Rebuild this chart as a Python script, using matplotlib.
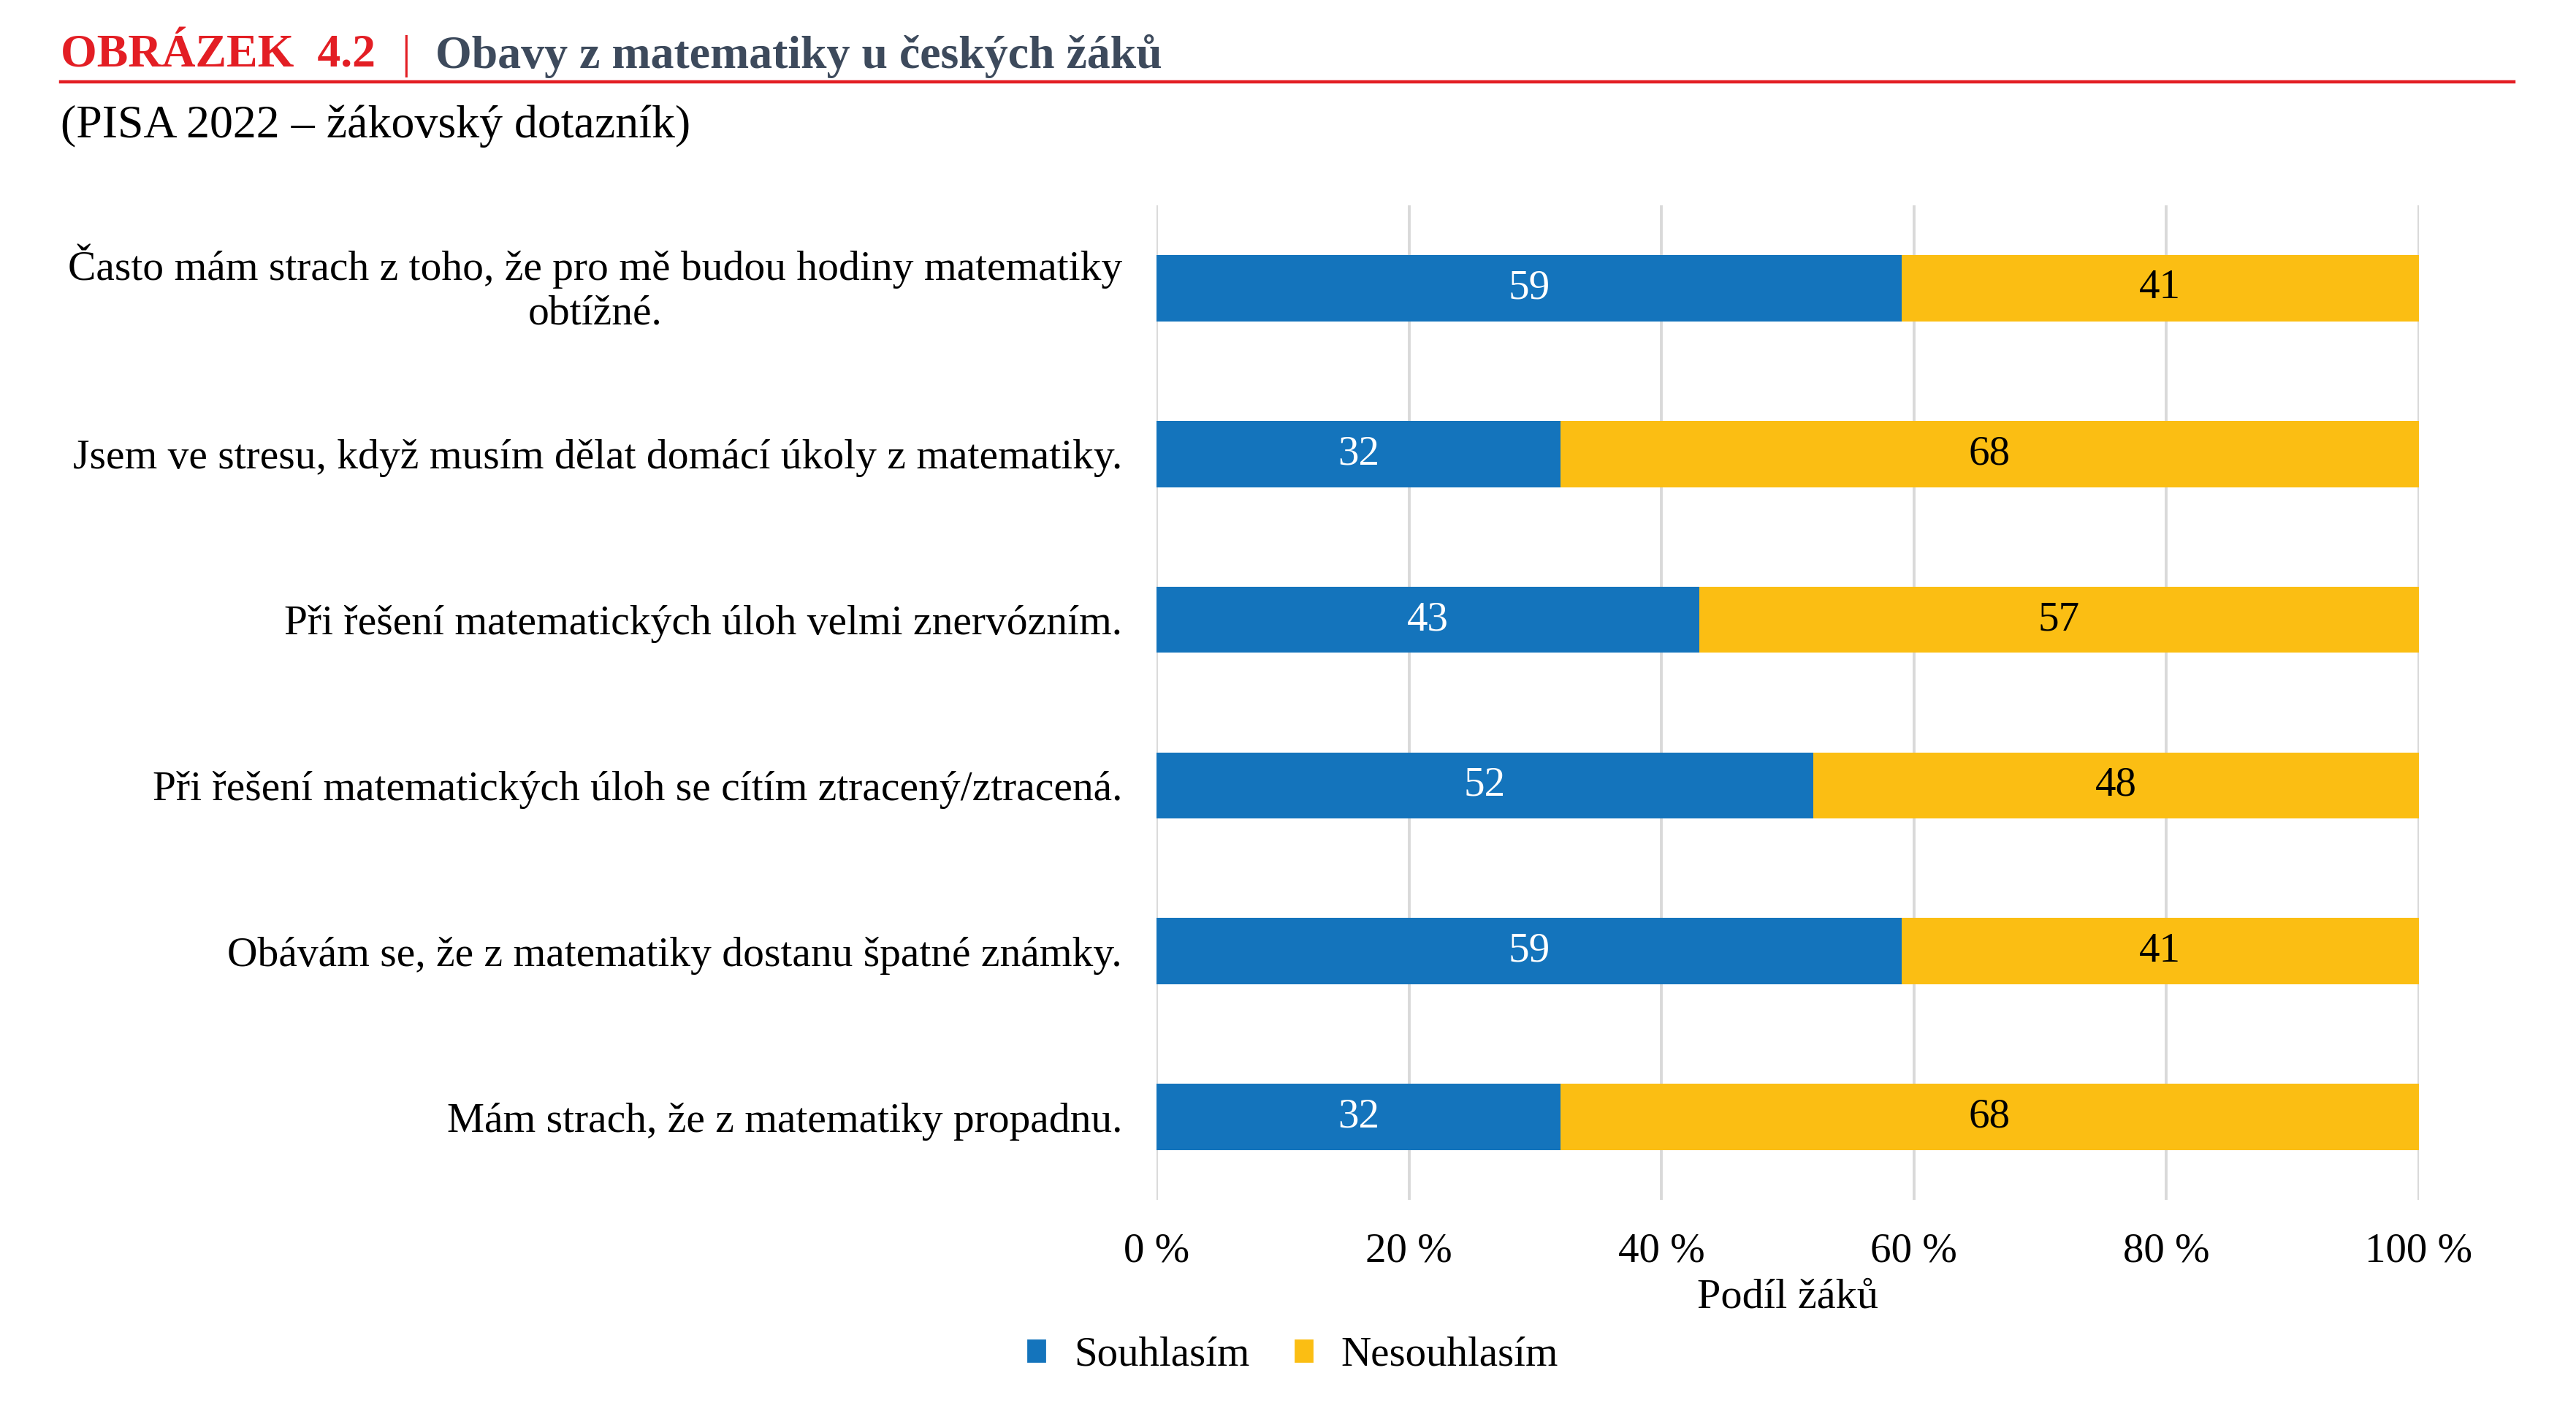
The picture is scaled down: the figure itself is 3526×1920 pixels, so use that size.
import matplotlib
matplotlib.use("Agg")
import matplotlib.pyplot as plt
from matplotlib.patches import Patch
from matplotlib.lines import Line2D

plt.rcParams["font.family"] = ["Liberation Serif", "DejaVu Serif"]

# data
statements = [
    "Často mám strach z toho, že pro mě budou hodiny matematiky\nobtížné.",
    "Jsem ve stresu, když musím dělat domácí úkoly z matematiky.",
    "Při řešení matematických úloh velmi znervózním.",
    "Při řešení matematických úloh se cítím ztracený/ztracená.",
    "Obávám se, že z matematiky dostanu špatné známky.",
    "Mám strach, že z matematiky propadnu.",
]
agree = [59, 32, 43, 52, 59, 32]
disagree = [41, 68, 57, 48, 41, 68]
series_names = ["Souhlasím", "Nesouhlasím"]
x_ticks = [0, 20, 40, 60, 80, 100]
x_tick_labels = ["0 %", "20 %", "40 %", "60 %", "80 %", "100 %"]

BLUE = "#1474BC"
YELLOW = "#FBBE13"
RED = "#E31E24"
SLATE = "#3D4A5C"
GRID = "#D9D9D9"

fig = plt.figure(figsize=(17.63, 9.6), dpi=200)

# title block
fig.text(0.0236, 0.960, "OBRÁZEK  4.2", color=RED, fontsize=23, weight="bold",
         va="center", ha="left")
fig.text(0.1575, 0.960, "|", color=RED, fontsize=23, va="center", ha="center")
fig.text(0.169, 0.960, "Obavy z matematiky u českých žáků", color=SLATE,
         fontsize=23, weight="bold", va="center", ha="left")
fig.add_artist(Line2D([0.0235, 0.976], [0.9415, 0.9415], color=RED, lw=1.6,
                      transform=fig.transFigure))
fig.text(0.0236, 0.910, "(PISA 2022 – žákovský dotazník)", color="black",
         fontsize=23, va="center", ha="left")

ax = fig.add_axes([0.449, 0.1448, 0.490, 0.7088])
y = list(range(len(statements)))
bar_h = 0.4
ax.barh(y, agree, height=bar_h, color=BLUE, label=series_names[0], zorder=2)
ax.barh(y, disagree, left=agree, height=bar_h, color=YELLOW,
        label=series_names[1], zorder=2)

for i, (a, d) in enumerate(zip(agree, disagree)):
    ax.text(a / 2, i, str(a), color="white", fontsize=20.5, ha="center",
            va="center", zorder=3)
    ax.text(a + d / 2, i, str(d), color="black", fontsize=20.5, ha="center",
            va="center", zorder=3)

ax.set_xlim(0, 100)
ax.set_ylim(len(statements) - 0.5, -0.5)
ax.set_xticks(x_ticks)
ax.set_xticklabels(x_tick_labels, fontsize=20.5)
ax.set_yticks(y)
ax.set_yticklabels(statements, fontsize=20.7)
for lab in ax.get_yticklabels():
    lab.set_multialignment("center")
    if "\n" in lab.get_text():
        lab.set_verticalalignment("center")
ax.tick_params(axis="both", length=0)
ax.tick_params(axis="y", pad=17)
ax.tick_params(axis="x", pad=16)
ax.grid(axis="x", color=GRID, lw=1.4, zorder=0)
ax.set_axisbelow(True)
for s in ax.spines.values():
    s.set_visible(False)
ax.set_xlabel("Podíl žáků", fontsize=21, labelpad=4)

handles = [Patch(color=BLUE), Patch(color=YELLOW)]
fig.legend(handles, series_names, loc="center", bbox_to_anchor=(0.502, 0.034),
           ncol=2, frameon=False, fontsize=20.5, handlelength=0.4,
           handleheight=0.4, handletextpad=0.7, columnspacing=1.1)

fig.savefig("out.png", dpi=200, facecolor="white")
